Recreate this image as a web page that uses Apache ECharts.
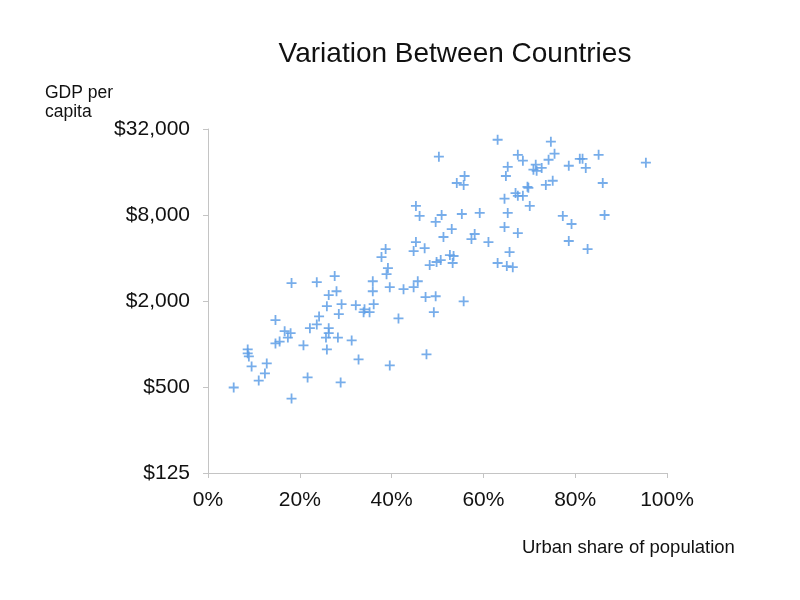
<!DOCTYPE html>
<html>
<head>
<meta charset="utf-8">
<script src="https://cdn.jsdelivr.net/npm/echarts@6/dist/echarts.min.js"></script>
<style>html,body{margin:0;padding:0;background:#fff}#c{width:800px;height:600px}</style>
</head>
<body>
<div id="c"></div>
<script>
// Urban share of population (%)
const urbanShare = [
  63.1,74.7,50.3,67.5,75.5,68.6,74.2,65.3,71.4,72.7,70.9,71.6,78.6,81.0,81.6,82.3,85.1,95.4,
  55.9,64.9,54.2,55.7,75.1,73.6,86.0,69.6,69.8,67.0,67.5,68.6,64.6,70.1,65.3,46.1,50.9,55.3,
  59.2,49.6,77.3,79.2,86.4,53.1,64.6,67.5,51.3,58.1,57.4,61.1,78.6,82.7,47.2,65.7,52.7,53.5,
  53.3,48.3,49.8,50.7,63.1,65.1,66.4,47.4,49.6,55.7,49.2,47.6,45.3,45.3,44.8,38.7,37.8,39.2,
  38.9,27.6,18.2,23.7,35.9,45.7,39.6,42.6,44.8,26.3,28.0,35.9,25.9,29.1,32.2,34.1,33.9,35.2,
  36.1,28.5,24.2,14.7,41.5,22.2,23.7,26.3,26.3,25.7,28.3,31.3,16.7,18.0,17.4,15.6,14.7,20.8,
  25.9,8.65,8.65,8.9,32.8,39.6,9.5,12.8,12.4,11.05,21.7,28.9,5.6,18.2
];
// GDP per capita (US$)
const gdpPerCapita = [
  26900,26100,20500,21100,21500,19200,19500,17400,18000,17100,16600,16300,17700,19800,19800,17100,21100,18600,
  15000,15000,13400,13000,13900,13000,13400,12600,12400,11400,10900,10900,10400,9260,8270,7880,8000,8130,
  8270,7150,7880,6920,8000,6380,6590,5980,5610,5890,5430,5170,5260,4620,4690,4400,4190,4130,
  3690,3570,3750,3870,3690,3510,3450,2130,2160,1990,1670,846,9260,5170,4470,4620,4060,3400,
  3080,2990,2670,2710,2750,2750,2500,2420,2500,2200,2340,2340,1840,1900,1870,1750,1670,1670,
  1900,1620,1560,1470,1510,1290,1370,1290,1190,1110,1110,1060,1230,1190,1110,1040,1010,979,
  917,917,860,819,780,708,697,731,622,555,583,538,496,415
];
const xTicks = [0, 20, 40, 60, 80, 100];
const yTicks = [125, 500, 2000, 8000, 32000];

const points = urbanShare.map((u, i) => [u, gdpPerCapita[i]]);
const FONT = '"Liberation Sans", Arial, Helvetica, sans-serif';

const chart = echarts.init(document.getElementById('c'), null, {renderer: 'canvas'});
chart.setOption({
  backgroundColor: '#ffffff',
  animation: false,
  title: [
    {text: 'Variation Between Countries', left: 450, top: 35, textAlign: 'center',
     textStyle: {fontFamily: FONT, fontSize: 28, fontWeight: 'normal', color: '#111'}},
    {text: 'GDP per\ncapita', left: 40, top: 78,
     textStyle: {fontFamily: FONT, fontSize: 17.5, fontWeight: 'normal', color: '#111', lineHeight: 19.5}},
    {text: 'Urban share of population', left: 517, top: 533,
     textStyle: {fontFamily: FONT, fontSize: 18.5, fontWeight: 'normal', color: '#111'}}
  ],
  grid: {left: 208, right: 133, top: 129, bottom: 127, containLabel: false},
  xAxis: {
    type: 'value', min: xTicks[0], max: xTicks[xTicks.length - 1], interval: 20,
    axisLine: {lineStyle: {color: '#c4c4c4', width: 1}},
    axisTick: {show: true, inside: false, length: 5, lineStyle: {color: '#c4c4c4'}},
    splitLine: {show: false},
    axisLabel: {fontFamily: FONT, fontSize: 21, color: '#111', margin: 17,
      formatter: v => v + '%'}
  },
  yAxis: {
    type: 'log', logBase: 4, min: yTicks[0], max: yTicks[yTicks.length - 1],
    axisLine: {show: true, lineStyle: {color: '#c4c4c4', width: 1}},
    axisTick: {show: true, inside: false, length: 5, lineStyle: {color: '#c4c4c4'},
      customValues: yTicks},
    splitLine: {show: false},
    axisLabel: {fontFamily: FONT, fontSize: 21, color: '#111', margin: 18,
      customValues: yTicks,
      formatter: v => '$' + Math.round(v).toLocaleString('en-US')}
  },
  series: [{
    type: 'scatter',
    data: points,
    symbol: 'path://M4.1,0 H5.9 V4.1 H10 V5.9 H5.9 V10 H4.1 V5.9 H0 V4.1 H4.1 Z',
    symbolSize: 10,
    itemStyle: {color: '#5f9fe6', opacity: 0.85},
    emphasis: {disabled: true}
  }]
});
</script>
</body>
</html>
